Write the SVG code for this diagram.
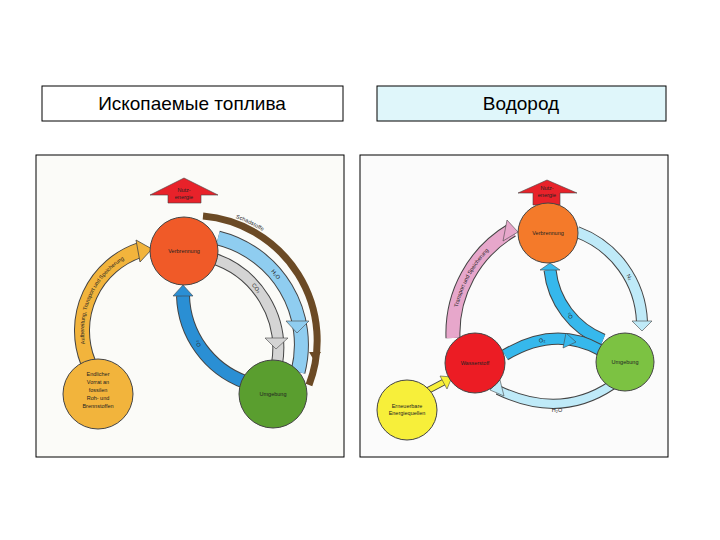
<svg xmlns="http://www.w3.org/2000/svg" width="720" height="540" viewBox="0 0 720 540">
<style>
.t{font-family:"Liberation Sans",Arial,sans-serif;font-size:19px;fill:#000}
.s{font-family:"Liberation Sans",Arial,sans-serif;font-size:5.5px;fill:#222;text-anchor:middle}
.c{stroke:#444;stroke-width:1}
.edge{fill:none;stroke:#444}
</style>
<rect width="720" height="540" fill="#fff"/>
<g id="title-left"><rect x="42" y="86" width="301" height="35" fill="#fff" stroke="#000"/><text class="t" x="192" y="110" text-anchor="middle">Ископаемые топлива</text></g>
<g id="title-right"><rect x="377" y="86" width="289" height="35" fill="#dff6fa" stroke="#000"/><text class="t" x="521" y="110" text-anchor="middle">Водород</text></g>
<rect x="36" y="155" width="308" height="302" fill="#fbfbf8" stroke="#000"/>
<rect x="360" y="155" width="308" height="302" fill="#fbfbfb" stroke="#000"/>

<g id="connectors">
<!-- left -->
<path d="M88 362 A85 85 0 0 1 140 250" class="edge" stroke-width="16"/>
<path id="pa" d="M88 362 A85 85 0 0 1 140 250" fill="none" stroke="#f2b43c" stroke-width="14"/>
<polygon points="136,240 152,249 140,262" fill="#f2b43c" stroke="#444" stroke-width="0.8"/>
<path id="pb" d="M203 216 A125 125 0 0 1 309 385" fill="none" stroke="#6b4a25" stroke-width="7"/>
<polygon points="309,352 321,352 315,362" fill="#6b4a25"/>
<path d="M218 238 A110 110 0 0 1 298 372" class="edge" stroke-width="15"/>
<path id="ph" d="M218 238 A110 110 0 0 1 298 372" fill="none" stroke="#8fcdf0" stroke-width="13"/>
<polygon points="286,321 309,321 297,333" fill="#8fcdf0" stroke="#444" stroke-width="0.6"/>
<path d="M212 258 A95 95 0 0 1 277 364" class="edge" stroke-width="12"/>
<path id="pc" d="M212 258 A95 95 0 0 1 277 364" fill="none" stroke="#d4d4d4" stroke-width="10"/>
<polygon points="265,338 288,338 276,349" fill="#d4d4d4" stroke="#444" stroke-width="0.6"/>
<path d="M245 382 A95 95 0 0 1 183 296" class="edge" stroke-width="14"/>
<path id="po" d="M245 382 A95 95 0 0 1 183 296" fill="none" stroke="#2a8fd4" stroke-width="12"/>
<polygon points="173,296 193,296 183,285" fill="#2a8fd4" stroke="#444" stroke-width="0.6"/>
<!-- right -->
<path d="M453 338 A120 120 0 0 1 512 230" class="edge" stroke-width="15"/>
<path id="pp" d="M453 338 A120 120 0 0 1 512 230" fill="none" stroke="#e7a7cb" stroke-width="13"/>
<polygon points="507,220 518,232 503,241" fill="#e7a7cb" stroke="#444" stroke-width="0.6"/>
<path d="M577 232 A100 100 0 0 1 642 322" class="edge" stroke-width="12"/>
<path id="pn" d="M577 232 A100 100 0 0 1 642 322" fill="none" stroke="#bfeaf8" stroke-width="10"/>
<polygon points="632,321 652,321 642,331" fill="#bfeaf8" stroke="#444" stroke-width="0.6"/>
<path d="M603 340 A85 85 0 0 1 550 270" class="edge" stroke-width="13"/>
<path id="po2" d="M603 340 A85 85 0 0 1 550 270" fill="none" stroke="#36b8ec" stroke-width="11"/>
<polygon points="540,270 560,270 550,263" fill="#36b8ec" stroke="#444" stroke-width="0.6"/>
<path d="M505 355 Q555 325 600 350" class="edge" stroke-width="12"/>
<path id="po3" d="M505 355 Q555 325 600 350" fill="none" stroke="#36b8ec" stroke-width="10"/>
<polygon points="566,333 576,342 563,348" fill="#36b8ec" stroke="#444" stroke-width="0.6"/>
<path d="M612 385 Q560 420 498 390" class="edge" stroke-width="10"/>
<path id="pw" d="M612 385 Q560 420 498 390" fill="none" stroke="#bfeaf8" stroke-width="8"/>
<polygon points="500,380 490,390 504,396" fill="#bfeaf8" stroke="#444" stroke-width="0.6"/>
<path d="M425 392 L444 382" stroke="#444" stroke-width="7"/>
<path d="M425 392 L444 382" stroke="#f7ef3a" stroke-width="5"/>
<polygon points="440,376 452,377 447,389" fill="#f7ef3a" stroke="#444" stroke-width="0.6"/>
</g>

<text class="s" dy="2"><textPath href="#pa" startOffset="50%">Aufbereitung, Transport und Speicherung</textPath></text>
<text class="s" dy="-5"><textPath href="#pb" startOffset="20%">Schadstoffe</textPath></text>
<text class="s" dy="2"><textPath href="#ph" startOffset="40%">H₂O</textPath></text>
<text class="s" dy="2"><textPath href="#pc" startOffset="40%">CO₂</textPath></text>
<text class="s" dy="2"><textPath href="#po" startOffset="55%">O₂</textPath></text>
<text class="s" dy="2"><textPath href="#pp" startOffset="50%">Transport und Speicherung</textPath></text>
<text class="s" dy="2"><textPath href="#pn" startOffset="60%">N₂</textPath></text>
<text class="s" dy="2"><textPath href="#po2" startOffset="45%">O₂</textPath></text>
<text class="s" dy="2"><textPath href="#po3" startOffset="40%">O₂</textPath></text>
<text class="s" x="557" y="412">H₂O</text>

<g id="nutz-left"><polygon points="168,203 168,195 150,195 184,178 218,195 201,195 201,203" fill="#e8222a" stroke="#444" stroke-width="0.6"/><text class="s" x="184" y="192">Nutz-</text><text class="s" x="184" y="199">energie</text></g>
<g id="verbrennung-left"><circle cx="184" cy="251" r="34" fill="#f05a28" class="c"/><text class="s" x="184" y="253">Verbrennung</text></g>
<g id="umgebung-left"><circle cx="273" cy="394" r="34" fill="#5a9e2f" class="c"/><text class="s" x="273" y="396">Umgebung</text></g>
<g id="vorrat"><circle cx="98" cy="394" r="35" fill="#f2b43c" class="c"/><text class="s" x="98" y="376">Endlicher</text><text class="s" x="98" y="384">Vorrat an</text><text class="s" x="98" y="392">fossilen</text><text class="s" x="98" y="400">Roh- und</text><text class="s" x="98" y="408">Brennstoffen</text></g>

<g id="nutz-right"><polygon points="533,205 533,193 518,193 547,180 577,193 560,193 560,205" fill="#e8222a" stroke="#444" stroke-width="0.6"/><text class="s" x="547" y="190">Nutz-</text><text class="s" x="547" y="197">energie</text></g>
<g id="verbrennung-right"><circle cx="548" cy="233" r="30" fill="#f47a2a" class="c"/><text class="s" x="548" y="235">Verbrennung</text></g>
<g id="umgebung-right"><circle cx="625" cy="362" r="29" fill="#7cc242" class="c"/><text class="s" x="625" y="364">Umgebung</text></g>
<g id="wasserstoff"><circle cx="475" cy="363" r="30" fill="#ec1c24" class="c"/><text class="s" x="475" y="365">Wasserstoff</text></g>
<g id="erneuerbare"><circle cx="407" cy="410" r="30" fill="#f7ef3a" class="c"/><text class="s" x="407" y="408">Erneuerbare</text><text class="s" x="407" y="415">Energiequellen</text></g>
</svg>
